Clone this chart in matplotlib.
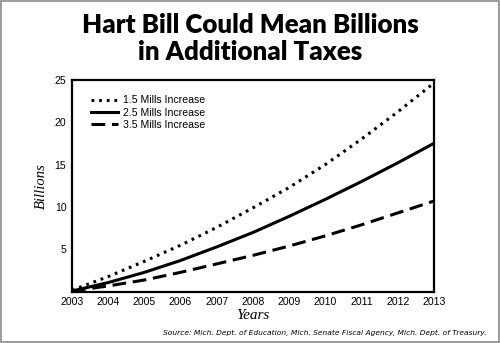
import matplotlib
matplotlib.use("Agg")
import matplotlib.pyplot as plt
from matplotlib.patches import Rectangle

# values (billions of dollars)
YEARS = [2003, 2004, 2005, 2006, 2007, 2008, 2009, 2010, 2011, 2012, 2013]
MILLS_15 = [0.2, 1.8, 3.6, 5.5, 7.6, 9.9, 12.3, 15.0, 18.0, 21.2, 24.6]
MILLS_25 = [0.1, 1.1, 2.3, 3.7, 5.3, 7.0, 8.9, 10.9, 13.0, 15.2, 17.5]
MILLS_35 = [0.1, 0.7, 1.4, 2.3, 3.3, 4.3, 5.4, 6.6, 7.9, 9.3, 10.7]
LABELS = ["1.5 Mills Increase", "2.5 Mills Increase", "3.5 Mills Increase"]
Y_TICKS = [5, 10, 15, 20, 25]

fig = plt.figure(figsize=(5.0, 3.43), dpi=100)
ax = fig.add_axes([0.144, 0.149, 0.724, 0.619])

ax.plot(YEARS, MILLS_15, color="black", lw=2.2, ls=(0, (0.9, 1.6)),
        dash_capstyle="butt", label=LABELS[0])
ax.plot(YEARS, MILLS_25, color="black", lw=2.2, ls="-", label=LABELS[1])
ax.plot(YEARS, MILLS_35, color="black", lw=2.2, ls=(0, (4.5, 2.2)),
        dash_capstyle="butt", label=LABELS[2])

ax.set_xlim(2003, 2013)
ax.set_ylim(0, 25)
ax.set_xticks(YEARS)
ax.set_yticks(Y_TICKS)
ax.tick_params(length=0, labelsize=7.6, pad=4)
for lab in ax.get_xticklabels() + ax.get_yticklabels():
    lab.set_family("Liberation Sans")
for sp in ax.spines.values():
    sp.set_linewidth(1.6)

ax.set_xlabel("Years", family="Liberation Serif", style="italic",
              fontsize=11, labelpad=1)
ax.set_ylabel("Billions", family="Liberation Serif", style="italic",
              fontsize=10.5, labelpad=5)

leg = ax.legend(loc="upper left", bbox_to_anchor=(0.04, 0.945), frameon=False,
                prop={"family": "Liberation Sans", "size": 7.6},
                handlelength=2.6, handletextpad=0.5, labelspacing=0.22,
                borderaxespad=0)

fig.text(0.5, 0.927, "Hart Bill Could Mean Billions", ha="center",
         va="center", fontsize=18.6, fontweight="heavy", family="Lato")
fig.text(0.5, 0.847, "in Additional Taxes", ha="center", va="center",
         fontsize=18.6, fontweight="heavy", family="Lato")
fig.text(0.974, 0.029,
         "Source: Mich. Dept. of Education, Mich. Senate Fiscal Agency, "
         "Mich. Dept. of Treasury.",
         ha="right", va="center", fontsize=5.4, style="italic",
         family="DejaVu Sans")

# thin grey frame around the whole picture
fig.patches.append(Rectangle((0.002, 0.003), 0.995, 0.993,
                             transform=fig.transFigure, fill=False,
                             edgecolor="#8a8a8a", lw=1.2))

fig.savefig("out.png", dpi=100)
